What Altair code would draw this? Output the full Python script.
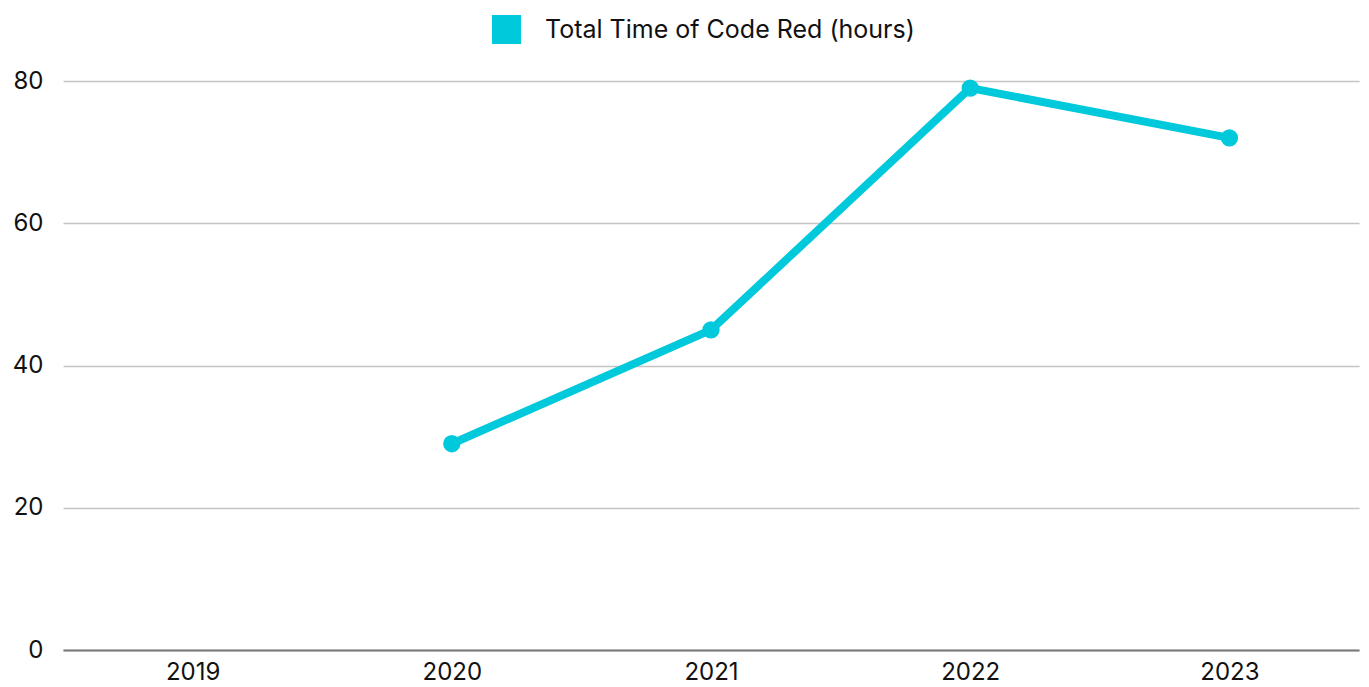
import altair as alt
import pandas as pd

# Yearly totals of Code Red time; 2019 has no recorded value
years = ["2019", "2020", "2021", "2022", "2023"]
hours = [None, 29, 45, 79, 72]
series_name = "Total Time of Code Red (hours)"

df = pd.DataFrame({"year": years, "hours": hours, "series": series_name})
df = df.dropna()

CYAN = "#00C9DB"
FONT = "Inter"

x_enc = alt.X(
    "year:O",
    scale=alt.Scale(domain=years),
    axis=alt.Axis(
        title=None,
        labelAngle=0,
        labelFontSize=24,
        labelColor="#111111",
        labelPadding=10,
        ticks=False,
        domainColor="#777777",
        domainWidth=2,
        grid=False,
    ),
)
y_enc = alt.Y(
    "hours:Q",
    scale=alt.Scale(domain=[0, 80], nice=False),
    axis=alt.Axis(
        title=None,
        values=[0, 20, 40, 60, 80],
        labelFontSize=24,
        labelColor="#111111",
        labelPadding=20,
        ticks=False,
        domain=False,
        gridColor="#C4C4C4",
        gridWidth=1.5,
    ),
)
color_enc = alt.Color(
    "series:N",
    scale=alt.Scale(domain=[series_name], range=[CYAN]),
    legend=alt.Legend(
        title=None,
        orient="none",
        legendX=429,
        legendY=-66,
        symbolType="square",
        symbolSize=841,
        symbolFillColor=CYAN,
        symbolStrokeWidth=0,
        labelFontSize=25,
        labelColor="#111111",
        labelOffset=24,
        labelLimit=0,
    ),
)

line = alt.Chart(df).mark_line(strokeWidth=8, color=CYAN).encode(
    x=x_enc, y=y_enc, color=color_enc
)
points = alt.Chart(df).mark_circle(size=300, opacity=1, color=CYAN).encode(
    x=x_enc, y=y_enc
)

chart = (
    alt.layer(line, points)
    .properties(
        width=1296,
        height=569,
        autosize=alt.AutoSizeParams(type="none"),
        padding={"left": 63, "top": 81, "right": 10, "bottom": 37},
    )
    .configure(font=FONT)
    .configure_view(stroke=None)
)

chart.save("out.html", embed_options={"renderer": "svg", "actions": False})
